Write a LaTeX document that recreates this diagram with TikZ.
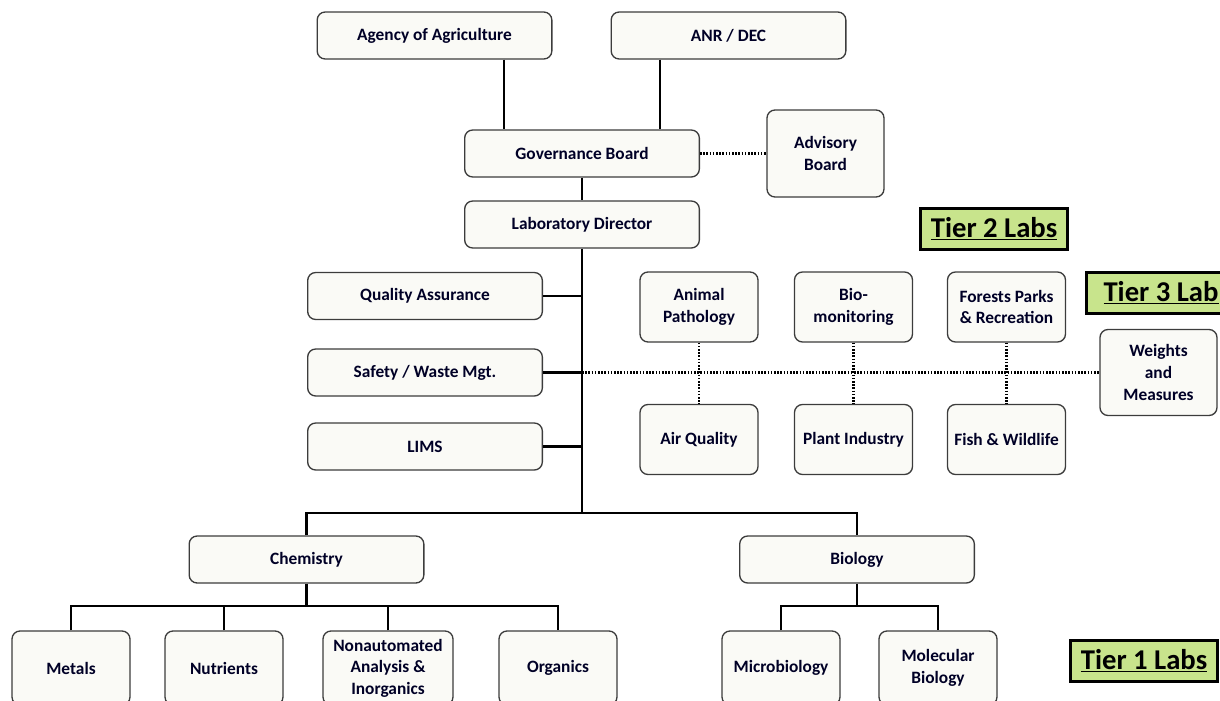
\documentclass[tikz,border=0pt]{standalone}
\usepackage{fontspec}
\setmainfont{Carlito}
\definecolor{boxfill}{RGB}{250,250,246}
\definecolor{boxdraw}{RGB}{60,60,60}
\definecolor{tiergreen}{RGB}{200,228,140}
\begin{document}
\begin{tikzpicture}[x=0.75pt,y=-0.75pt,
  box/.style={draw=boxdraw,line width=1pt,fill=boxfill,rounded corners=6pt,inner sep=0pt,
    align=center,font=\fontsize{13}{16.2}\selectfont\bfseries,text=black!85!blue},
  wide/.style={box,minimum width=176pt,minimum height=35.25pt},
  small/.style={box,minimum width=88.5pt,minimum height=52.5pt},
  low/.style={box,minimum width=88.5pt,minimum height=55.5pt},
  tier/.style={draw=black,line width=2.2pt,fill=tiergreen,inner sep=0pt,minimum width=110pt,minimum height=31pt,
    font=\fontsize{21.5}{24}\selectfont\bfseries},
  conn/.style={line width=2pt,black},
  dots/.style={line width=1.6pt,black,dash pattern=on 1.2pt off 1.2pt}]
\useasboundingbox (0,0) rectangle (1220,700);
\clip (0,0) rectangle (1220,700);
% top
\node[wide] (agency) at (434.5,35.5) {Agency of Agriculture};
\node[wide] (anr) at (728.5,35.5) {ANR / DEC};
\node[wide] (gov) at (582,153.5) {Governance Board};
\node[box,minimum width=87.75pt,minimum height=65.25pt] (adv) at (825.5,153.5) {Advisory\\Board};
\node[wide] (dir) at (582,224.5) {Laboratory Director};
% staff
\node[wide] (qa) at (425,296) {Quality Assurance};
\node[wide] (safe) at (425,372.5) {Safety / Waste Mgt.};
\node[wide] (lims) at (425,446.5) {LIMS};
% tier 2
\node[small] (animal) at (699,307) {Animal\\Pathology};
\node[small] (biomon) at (853.5,307) {Bio-\\monitoring};
\node[small] (forest) at (1006.5,307) {Forests Parks\\\& Recreation};
\node[small] (air) at (699,439.5) {Air Quality};
\node[small] (plant) at (853.5,439.5) {Plant Industry};
\node[small] (fish) at (1006.5,439.5) {Fish \& Wildlife};
\node[box,minimum width=87.75pt,minimum height=64.5pt] (wm) at (1158.5,372.5) {Weights\\and\\Measures};
% tier labels
\node[tier] (t2) at (994,229) {\underline{Tier 2 Labs}};
\node[tier,minimum width=112pt] (t3) at (1161,293) {\underline{Tier 3 Lab}};
\node[tier] (t1) at (1144,661) {\underline{Tier 1 Labs}};
% tier 1
\node[wide] (chem) at (306.5,559.5) {Chemistry};
\node[wide] (bio) at (857,559.5) {Biology};
\node[low] (metals) at (71,668) {Metals};
\node[low] (nutr) at (224,668) {Nutrients};
\node[low,minimum width=97.5pt] (nonauto) at (388,668) {Nonautomated\\Analysis \&\\Inorganics};
\node[low] (org) at (558,668) {Organics};
\node[low] (micro) at (781,668) {Microbiology};
\node[low] (mol) at (938,668) {Molecular\\Biology};
\coordinate (bus) at (582,513);
\coordinate (cbus) at (306.5,606);
\coordinate (bbus) at (857,606);
% connectors
\draw[conn] (agency.south -| 504,0) -- (gov.north -| 504,0);
\draw[conn] (anr.south -| 660,0) -- (gov.north -| 660,0);
\draw[conn] (gov) -- (dir);
\draw[dots] (gov.east) -- (adv.west);
\draw[conn] (dir.south) -- (bus);
\draw[conn] (qa.east) -- (qa.east -| dir);
\draw[conn] (safe.east) -- (safe.east -| dir);
\draw[conn] (lims.east) -- (lims.east -| dir);
\draw[conn] (chem.north) |- (bus) -| (bio.north);
\draw[dots] (safe.east -| dir) -- (wm.west);
\draw[dots] (animal) -- (air);
\draw[dots] (biomon) -- (plant);
\draw[dots] (forest) -- (fish);
\draw[conn] (chem.south) -- (cbus);
\draw[conn] (metals.north) |- (cbus) -| (org.north);
\draw[conn] (nutr.north) -- (nutr.north |- cbus);
\draw[conn] (nonauto.north) -- (nonauto.north |- cbus);
\draw[conn] (bio.south) -- (bbus);
\draw[conn] (micro.north) |- (bbus) -| (mol.north);
\end{tikzpicture}
\end{document}
